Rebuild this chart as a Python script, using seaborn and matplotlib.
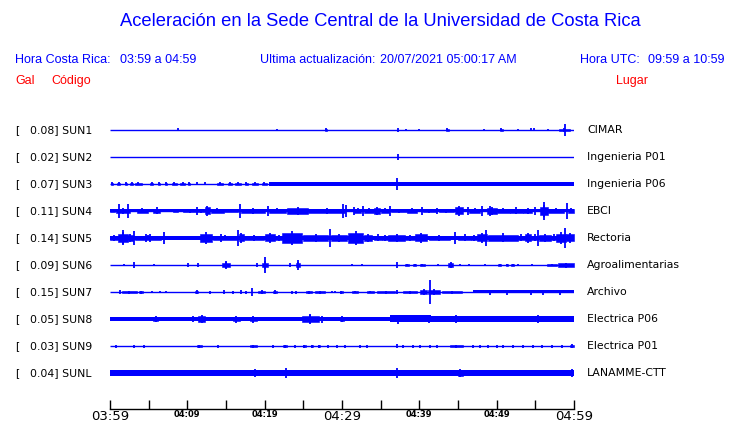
import seaborn as sns
import matplotlib.pyplot as plt

# estaciones (de arriba hacia abajo)
codigos = ["SUN1", "SUN2", "SUN3", "SUN4", "SUN5", "SUN6", "SUN7", "SUN8", "SUN9", "SUNL"]
gal = [0.08, 0.02, 0.07, 0.11, 0.14, 0.09, 0.15, 0.05, 0.03, 0.04]
lugares = ["CIMAR", "Ingenieria P01", "Ingenieria P06", "EBCI", "Rectoria",
           "Agroalimentarias", "Archivo", "Electrica P06", "Electrica P01", "LANAMME-CTT"]

# ruido de fondo (semi-ancho, px) por estacion
fondo = [0.5, 0.5, 0.6, 1.5, 2.0, 0.5, 0.6, 2.0, 0.6, 2.5]

# envolventes: (min inicio, min fin, semi-amplitud px)
sun1 = [(8.8, 8.8, 1.5), (21.6, 21.6, 1), (27.8, 28.0, 1.5), (37.2, 37.2, 2), (38.3, 38.3, 1),
        (40.0, 40.0, 0.8), (43.4, 43.8, 1.5), (48.4, 48.4, 1), (50.4, 50.8, 1.5), (52.8, 52.8, 1),
        (54.4, 54.4, 1.5), (54.8, 54.8, 1.5), (56.6, 56.6, 1), (58.0, 59.5, 2), (58.8, 58.8, 6)]
sun2 = [(37.2, 37.2, 3)]
sun3 = [(0.1, 0.4, 1.5), (0.9, 1.3, 1.5), (1.9, 2.2, 1.5), (2.6, 3.0, 1.5), (3.2, 4.1, 1.5),
        (5.2, 5.6, 1.5), (6.2, 6.5, 1.5), (7.1, 7.4, 1.5), (8.0, 8.6, 1.5), (9.1, 9.7, 1.5),
        (10.1, 10.3, 1.5), (11.2, 11.2, 1.5), (12.3, 12.3, 1.5), (13.8, 14.6, 1.5), (15.3, 15.8, 1.5),
        (16.2, 17.0, 1.5), (17.5, 17.8, 1.5), (18.3, 19.1, 1.5), (19.6, 20.3, 1.5), (20.5, 60.0, 1.8),
        (37.1, 37.1, 6)]
sun4 = [(0.0, 0.7, 1.5), (0.8, 2.6, 3), (1.1, 1.1, 7), (2.3, 2.3, 7), (3.5, 4.9, 2.5),
        (5.6, 6.5, 3.5), (8.2, 8.8, 1.5), (9.4, 11.2, 2), (11.2, 11.2, 4), (11.2, 12.3, 2),
        (12.3, 12.9, 5), (13.0, 14.7, 2.5), (14.7, 16.6, 1.5), (16.8, 16.8, 7), (16.9, 20.0, 3),
        (20.4, 20.4, 5), (20.5, 22.7, 2.5), (22.9, 25.6, 4), (25.6, 30.4, 3), (30.1, 30.1, 7),
        (30.5, 30.5, 6), (31.5, 31.5, 4), (31.6, 32.5, 2.5), (32.7, 32.7, 5), (32.8, 34.2, 2.5),
        (34.2, 34.9, 4), (35.0, 36.1, 2.5), (36.2, 36.2, 5), (36.4, 38.4, 2), (38.4, 39.7, 2.5),
        (40.3, 40.3, 4), (40.5, 42.1, 2), (42.3, 42.3, 3), (42.5, 44.5, 2), (44.6, 45.6, 5),
        (46.3, 46.3, 4), (46.4, 47.9, 2.5), (48.1, 48.1, 5), (48.8, 50.0, 4), (49.2, 49.2, 5),
        (50.0, 51.7, 2.5), (51.7, 53.4, 3.5), (53.4, 54.6, 3), (55.0, 55.0, 4), (55.6, 56.6, 6),
        (56.1, 56.1, 9), (56.7, 58.7, 2.5), (59.1, 59.1, 8), (59.2, 60.0, 2.5)]
sun5 = [(0.0, 1.0, 3), (1.0, 2.3, 6), (1.7, 1.7, 7.5), (2.3, 3.0, 4), (3.1, 3.1, 7),
        (3.2, 6.6, 2.5), (4.7, 4.7, 4), (5.2, 5.2, 4), (7.0, 7.0, 6), (11.6, 13.2, 6),
        (13.3, 16.4, 2.5), (14.4, 14.4, 4), (16.6, 16.6, 8), (16.7, 17.3, 5), (17.3, 19.9, 3),
        (20.1, 21.4, 5), (21.4, 22.2, 3), (22.2, 24.8, 7), (25.0, 28.2, 4), (28.4, 28.4, 9),
        (28.6, 30.6, 4), (30.8, 32.7, 7), (32.8, 33.9, 4), (34.1, 35.2, 3.5), (35.2, 36.0, 3),
        (36.0, 38.2, 4), (38.2, 39.5, 3), (39.5, 41.0, 5), (41.2, 44.0, 3), (44.6, 44.6, 6),
        (45.0, 46.7, 3.5), (46.7, 47.5, 3), (47.5, 48.8, 5), (48.6, 48.6, 8), (48.9, 52.8, 4.5),
        (52.8, 53.6, 3.5), (53.6, 54.5, 5), (54.5, 55.4, 3.5), (55.4, 55.4, 8), (55.5, 57.0, 4),
        (57.0, 57.7, 3.5), (57.7, 59.0, 6), (58.8, 58.8, 10), (59.0, 60.0, 5)]
sun6 = [(1.8, 1.8, 1.5), (3.1, 3.1, 3), (5.7, 5.7, 1.5), (10.1, 10.1, 2), (11.4, 11.4, 2),
        (14.5, 15.5, 3), (15.0, 15.0, 4), (19.0, 19.0, 2), (19.7, 20.4, 3.5), (20.0, 20.0, 8),
        (23.3, 23.3, 2), (24.0, 24.6, 3), (24.3, 24.3, 5), (31.3, 31.3, 1.5), (32.6, 32.6, 1.5),
        (37.1, 37.1, 3), (38.1, 38.6, 1.5), (39.2, 39.6, 1.5), (40.1, 40.7, 1.5), (42.4, 42.4, 1),
        (43.7, 44.4, 3), (45.2, 45.2, 1.5), (46.4, 46.4, 1.5), (48.5, 48.5, 1.5), (50.2, 50.6, 1.5),
        (51.2, 51.5, 1.5), (51.9, 52.2, 1.5), (52.8, 52.8, 1.5), (54.6, 54.6, 1), (56.5, 57.8, 1.5),
        (57.9, 60.0, 2.5)]
sun7 = [(1.3, 1.3, 2), (1.5, 3.5, 1.5), (3.7, 4.3, 1.5), (5.4, 5.4, 1), (6.5, 6.5, 1),
        (7.3, 7.3, 1), (11.0, 11.4, 2), (12.9, 12.9, 1.5), (14.7, 14.7, 2), (15.9, 15.9, 1.5),
        (17.0, 17.0, 2), (17.6, 17.6, 1.5), (18.3, 18.3, 4), (19.2, 20.0, 2), (21.1, 21.6, 2),
        (23.5, 23.5, 1.5), (24.1, 24.1, 1.5), (25.4, 26.1, 1.5), (26.5, 27.8, 1.5), (28.7, 28.7, 1),
        (29.1, 29.1, 1), (29.7, 30.1, 1.5), (31.3, 32.1, 1), (33.2, 34.1, 1), (34.5, 36.9, 1.5),
        (37.1, 37.1, 2), (37.9, 39.7, 1.5), (40.1, 41.0, 3), (41.4, 41.4, 12), (41.1, 42.7, 3),
        (42.9, 45.5, 1.5), (47.0, 60.0, 1.5), (49.1, 49.1, 2.5), (51.3, 51.3, 2.5), (54.5, 54.5, 2.5),
        (56.0, 56.0, 2.5), (58.2, 58.2, 2.5)]
sun8 = [(5.6, 6.2, 3), (10.7, 10.7, 3), (11.4, 12.3, 4), (15.9, 16.8, 3.5), (18.1, 19.0, 3.5),
        (24.8, 27.0, 4), (25.8, 25.8, 5), (27.4, 27.4, 3.5), (29.7, 30.2, 3), (36.2, 60.0, 3),
        (36.2, 41.5, 3.5), (37.3, 37.3, 4.5), (41.2, 41.2, 4), (44.8, 44.8, 4), (55.4, 55.4, 4)]
sun9 = [(0.8, 0.8, 1.5), (3.1, 3.1, 1.5), (4.4, 4.4, 1.5), (11.2, 11.9, 1.5), (14.0, 14.0, 1.5),
        (18.1, 19.0, 1.5), (21.1, 21.1, 1.5), (22.4, 22.9, 1.5), (23.9, 23.9, 1.5), (25.0, 25.3, 1.5),
        (26.0, 26.3, 1.5), (26.9, 27.2, 1.5), (28.2, 28.2, 1.5), (29.4, 29.4, 1.5), (30.4, 30.4, 1.5),
        (32.3, 32.3, 1.5), (33.2, 33.2, 1.5), (37.1, 37.1, 2), (37.9, 37.9, 1.5), (39.2, 39.2, 1.5),
        (40.1, 40.1, 1.5), (41.4, 41.4, 1.5), (42.3, 42.3, 1.5), (44.0, 45.6, 1.5), (47.0, 47.0, 1.5),
        (47.8, 47.8, 1.5), (48.9, 48.9, 1.5), (50.0, 50.0, 1.5), (50.8, 50.8, 1.5), (52.1, 52.1, 1.5),
        (53.4, 53.4, 1.5), (54.7, 54.7, 1.5), (55.8, 55.8, 1.5), (57.2, 57.2, 1.5), (58.4, 58.4, 1.5),
        (59.5, 60.0, 2)]
sunl = [(9.6, 9.6, 3), (17.1, 17.1, 3), (18.7, 18.7, 4), (22.8, 22.8, 5), (37.1, 37.1, 5),
        (45.0, 45.6, 4), (56.9, 56.9, 3), (59.8, 59.8, 4)]
eventos = [sun1, sun2, sun3, sun4, sun5, sun6, sun7, sun8, sun9, sunl]

ticks_min = list(range(0, 61, 5))
tick_labels = ["03:59", "", "04:09", "", "04:19", "", "04:29", "", "04:39", "", "04:49", "", "04:59"]

sns.set_theme(style="white")
plt.rcParams['font.family'] = ['DejaVu Sans']

W, H = 740, 423
fig = plt.figure(figsize=(W / 100, H / 100), dpi=100)
fig.patch.set_facecolor("white")

# ejes: x 110..574 px, filas cada 27 px desde y=130, eje inferior en y=409
fila = 27.0
ax = fig.add_axes([110 / W, (H - 409) / H, 464 / W, (409 - 115) / H])
ax.set_xlim(0, 60)
ax.set_ylim((409 - 130) / fila, (115 - 130) / fila)
ax.set_facecolor("white")

azul = "#0000ff"
for i in range(len(codigos)):
    f = fondo[i] / fila
    if fondo[i] > 1:
        ax.fill_between([0, 60], i - f, i + f, color=azul, lw=0)
    ax.hlines(i, 0, 60, color=azul, lw=1.0)
    for t0, t1, h in eventos[i]:
        a = h / fila
        if t1 - t0 < 0.15:
            ax.vlines(t0, i - a, i + a, color=azul, lw=1.3)
        elif t1 - t0 > 5:
            ax.fill_between([t0, t1], i - a, i + a, color=azul, lw=0)
        else:
            # rafaga: bloque con pico central
            tm = (t0 + t1) / 2
            ax.fill_between([t0, t1], i - a * 0.7, i + a * 0.7, color=azul, lw=0.4, edgecolor=azul)
            ax.vlines(tm, i - a, i + a, color=azul, lw=1.3)

for s in ["top", "left", "right"]:
    ax.spines[s].set_visible(False)
ax.spines["bottom"].set_color("black")
ax.spines["bottom"].set_linewidth(1.0)
ax.set_yticks([])
ax.set_xticks(ticks_min)
ax.set_xticklabels(tick_labels)
ax.tick_params(axis="x", direction="in", length=6.5, width=1, color="black", pad=0.5, bottom=True)
for lab in ax.get_xticklabels():
    if lab.get_text() in ("03:59", "04:29", "04:59"):
        lab.set_fontsize(9.5)
    else:
        lab.set_fontsize(6)
        lab.set_fontweight("bold")
    lab.set_color("black")


def px(x, y):
    return x / W, 1 - y / H


# etiquetas de estaciones
for i in range(len(codigos)):
    y = 130 + fila * i
    fig.text(*px(15, y), "[", fontsize=7.8, va="center", ha="left", color="black")
    fig.text(*px(30, y), f"{gal[i]:.2f}] {codigos[i]}", fontsize=7.8, va="center", ha="left", color="black")
    fig.text(*px(587, y), lugares[i], fontsize=7.8, va="center", ha="left", color="black")

head = ["Liberation Sans", "DejaVu Sans"]
fig.text(*px(380, 22), "Aceleración en la Sede Central de la Universidad de Costa Rica",
         fontsize=13.2, family=head, color=azul, ha="center", va="center")
fig.text(*px(15, 60), "Hora Costa Rica:", fontsize=9, family=head, color=azul, va="center")
fig.text(*px(120, 60), "03:59 a 04:59", fontsize=9, family=head, color=azul, va="center")
fig.text(*px(260, 60), "Ultima actualización:", fontsize=9, family=head, color=azul, va="center")
fig.text(*px(380, 60), "20/07/2021 05:00:17 AM", fontsize=9, family=head, color=azul, va="center")
fig.text(*px(580, 60), "Hora UTC:", fontsize=9, family=head, color=azul, va="center")
fig.text(*px(725, 60), "09:59 a 10:59", fontsize=9, family=head, color=azul, va="center", ha="right")
fig.text(*px(15, 81), "Gal", fontsize=9, family=head, color="red", va="center")
fig.text(*px(51, 81), "Código", fontsize=9, family=head, color="red", va="center")
fig.text(*px(648, 81), "Lugar", fontsize=9, family=head, color="red", va="center", ha="right")

plt.savefig("out.png", dpi=100)
